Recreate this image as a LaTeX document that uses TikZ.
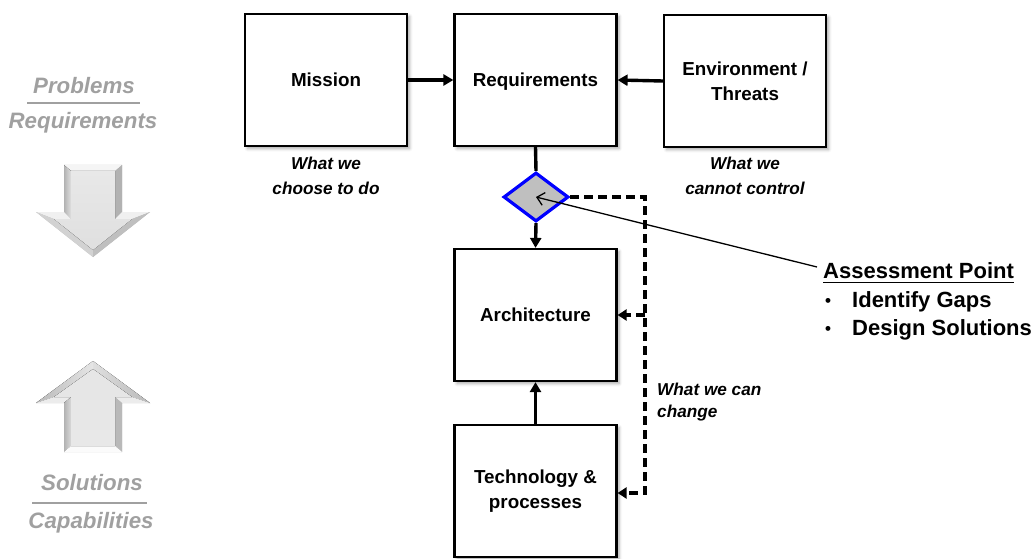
\documentclass[tikz,border=0pt]{standalone}
\usepackage{fontspec}
\setmainfont{Liberation Sans}
\usetikzlibrary{arrows.meta,shapes.geometric,shadows.blur}
\definecolor{txtgray}{RGB}{160,160,160}
\definecolor{dgray}{RGB}{191,191,191}
\definecolor{apblue}{RGB}{0,0,255}
\tikzset{
  box/.style={draw, line width=2.2pt, fill=white, minimum width=162pt, minimum height=132pt,
    inner sep=0pt, align=center, font=\fontsize{18.8}{25}\selectfont\bfseries,
    blur shadow={shadow xshift=2.5pt, shadow yshift=-2.5pt, shadow blur radius=3pt, shadow opacity=35}},
  oneline/.style={text height=13.5pt, text depth=0pt},
  arr/.style={line width=3.4pt, -{Triangle[length=10pt,width=11pt]}},
  plain/.style={line width=3.4pt},
  dsh/.style={line width=3.2pt, dash pattern=on 9pt off 5pt, -{Triangle[length=9pt,width=11pt]}},
  note/.style={align=center, inner sep=0pt, font=\fontsize{17.2}{24.5}\selectfont\bfseries\itshape},
  side/.style={inner sep=0pt, text=txtgray, font=\fontsize{22.3}{26}\selectfont\bfseries\itshape},
  big/.style={inner sep=0pt, font=\fontsize{22}{26}\selectfont\bfseries},
}
\begin{document}
\begin{tikzpicture}[x=1pt,y=-1pt]
\useasboundingbox (0,0) rectangle (1034,559);

% main boxes
\node[box, oneline] (mis) at (326,80) {Mission};
\node[box, oneline] (req) at (535.5,80) {Requirements};
\node[box] (env) at (745,81) {Environment /\\Threats};
\node[box, oneline] (arch) at (535.5,315) {Architecture};
\node[box] (tech) at (535.5,491) {Technology \&\\processes};

% assessment diamond
\node[diamond, draw=apblue, line width=3.2pt, fill=dgray, minimum width=65pt, minimum height=49pt,
  inner sep=0pt, aspect=1.33] (ap) at (536,197) {};

% connectors
\draw[arr] (mis.east) -- (req.west);
\draw[arr] (env.west) -- (req.east);
\draw[plain] (req.south) -- (ap.north);
\draw[arr] (ap.south) -- (arch.north);
\draw[arr] (tech.north) -- (arch.south);

\coordinate (c1) at (645,197);
\draw[dsh] (ap.east) -- (c1) |- ([yshift=-2pt]tech.east);
\draw[dsh] (c1 |- arch.east) -- (arch.east);

% notes
\node[note] (n1) at (326,176) {What we\\choose to do};
\node[note] (n2) at (745,176) {What we\\cannot control};
\node[note, align=left, anchor=north west, font=\fontsize{17.2}{22}\selectfont\bfseries\itshape] (n3) at (657,383) {What we can\\change};

% assessment text
\node[big, anchor=base west] (apt) at (823,278) {Assessment Point};
\draw[line width=1.8pt] ([yshift=-4.5pt]apt.base west) -- ([yshift=-4.5pt]apt.base east);
\node[big, anchor=base west] (g1) at (852,307) {Identify Gaps};
\node[big, anchor=base west] (g2) at (852,335) {Design Solutions};
\node[big, anchor=base west, font=\fontsize{17}{20}\selectfont\bfseries] (b1) at (825,306) {•};
\node[big, anchor=base west, font=\fontsize{17}{20}\selectfont\bfseries] (b2) at (825,334) {•};
\coordinate (le) at (817,267);
\draw[line width=1.3pt, {Straight Barb[length=7pt,width=13pt]}-] (ap.center) -- (le);

% left side labels
\node[side] (p1) at (84,86) {Problems};
\draw[txtgray, line width=1.8pt] (27,103) -- (140,103);
\node[side] (p2) at (83,123) {Requirements};
\node[side] (s1) at (92,483) {Solutions};
\draw[txtgray, line width=1.8pt] (32,503) -- (147,503);
\node[side] (s2) at (91,523) {Capabilities};

% down 3D arrow
\fill[gray!55] (64,165) -- (122,165) -- (122,212) -- (150,212) -- (93,257) -- (36,212) -- (64,212) -- cycle;
\fill[gray!8] (64,165) -- (122,165) -- (115,171) -- (71,171) -- cycle;
\fill[left color=gray!60, right color=gray!25] (64,165) -- (71,171) -- (71,219) -- (64,212) -- cycle;
\fill[gray!60] (122,165) -- (122,212) -- (115,219) -- (115,171) -- cycle;
\fill[gray!12] (36,212) -- (64,212) -- (71,219) -- (54,219) -- cycle;
\fill[gray!12] (150,212) -- (122,212) -- (115,219) -- (132,219) -- cycle;
\fill[gray!35] (36,212) -- (54,219) -- (93,250) -- (93,257) -- cycle;
\fill[gray!50] (93,257) -- (93,250) -- (132,219) -- (150,212) -- cycle;
\fill[top color=gray!18, bottom color=gray!25] (71,171) -- (115,171) -- (115,219) -- (132,219) -- (93,250) -- (54,219) -- (71,219) -- cycle;

% up 3D arrow
\fill[gray!55] (93,361) -- (150,403) -- (122,403) -- (122,452) -- (64,452) -- (64,403) -- (36,403) -- cycle;
\fill[left color=gray!55, right color=gray!20] (93,361) -- (93,369) -- (54,397) -- (36,403) -- cycle;
\fill[left color=gray!25, right color=gray!55] (93,361) -- (150,403) -- (132,397) -- (93,369) -- cycle;
\fill[gray!15] (36,403) -- (54,397) -- (71,397) -- (64,403) -- cycle;
\fill[gray!15] (150,403) -- (132,397) -- (115,397) -- (122,403) -- cycle;
\fill[left color=gray!60, right color=gray!30] (64,403) -- (71,397) -- (71,446) -- (64,452) -- cycle;
\fill[gray!55] (122,403) -- (115,397) -- (115,446) -- (122,452) -- cycle;
\fill[gray!3] (64,452) -- (71,446) -- (115,446) -- (122,452) -- cycle;
\fill[top color=gray!20, bottom color=gray!18] (93,369) -- (132,397) -- (115,397) -- (115,446) -- (71,446) -- (71,397) -- (54,397) -- cycle;
\end{tikzpicture}
\end{document}
